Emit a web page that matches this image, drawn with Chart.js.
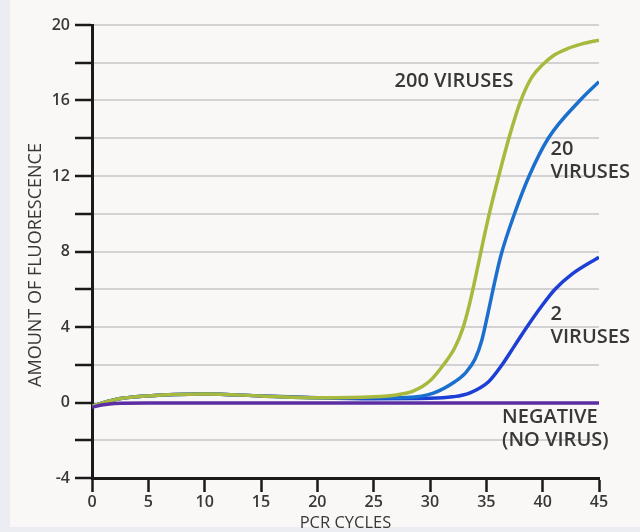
<!DOCTYPE html>
<html>
<head>
<meta charset="utf-8">
<script src="https://cdn.jsdelivr.net/npm/chart.js@4.4.0/dist/chart.umd.min.js"></script>
<style>
  html, body { margin: 0; padding: 0; background: #ecedf2; }
  canvas { display: block; }
</style>
</head>
<body>
<canvas id="mychart" width="640" height="532"></canvas>
<script>
// values (x = PCR cycle, y = fluorescence)
var cycles200 = [0, 2, 5, 10, 15, 20, 25, 27, 28.5, 30, 31.2, 32.2, 32.9, 33.5, 34.1, 34.7, 35.3, 36.1, 37, 38, 39, 40, 41, 42.2, 43.5, 45];
var fluor200  = [-0.2, 0.15, 0.35, 0.45, 0.35, 0.25, 0.3, 0.4, 0.6, 1.15, 2, 2.9, 3.9, 5.2, 6.8, 8.5, 10.1, 12, 14, 15.9, 17.2, 17.9, 18.4, 18.75, 19.0, 19.2];

var cycles20 = [0, 2, 5, 10, 15, 20, 25, 28, 30.3, 32.2, 33.2, 34.0, 34.6, 35.1, 35.6, 36.3, 37.5, 38.8, 40.5, 43.3, 45];
var fluor20  = [-0.2, 0.15, 0.35, 0.45, 0.35, 0.25, 0.25, 0.27, 0.5, 1.1, 1.6, 2.3, 3.3, 4.6, 6, 7.8, 10, 12, 14, 16, 17];

var cycles2 = [0, 2, 5, 10, 15, 20, 25, 30, 32, 33.5, 35.2, 36.4, 37.5, 38.6, 39.9, 41.1, 42.6, 45];
var fluor2  = [-0.2, 0.15, 0.35, 0.45, 0.35, 0.25, 0.2, 0.22, 0.3, 0.5, 1.1, 2, 3, 4, 5.1, 6, 6.8, 7.7];

var cyclesNeg = [0, 1, 2, 5, 45];
var fluorNeg  = [-0.25, -0.12, -0.05, -0.03, -0.03];

var yLabelTicks = [-4, 0, 4, 8, 12, 16, 20];

function pts(xs, ys) {
    return xs.map(function(x, i) { return { x: x, y: ys[i] }; });
}

// text next to the curves, placed in data units
var curveLabels = [
    { lines: ['200 VIRUSES'], x: 37.4, y: 17.0, align: 'right' },
    { lines: ['20', 'VIRUSES'], x: 40.7, y: 13.4, align: 'left' },
    { lines: ['2', 'VIRUSES'], x: 40.7, y: 4.67, align: 'left' },
    { lines: ['NEGATIVE', '(NO VIRUS)'], x: 36.4, y: -0.8, align: 'left' }
];

var bgPlugin = {
    id: 'bg',
    beforeDraw: function(chart) {
        var c = chart.ctx;
        c.save();
        c.fillStyle = '#ecedf2';
        c.fillRect(0, 0, chart.width, chart.height);
        c.fillStyle = '#f9f8f6';
        c.fillRect(10, 0, chart.width - 10, chart.height - 5);
        c.restore();
    }
};

var labelPlugin = {
    id: 'curveLabels',
    afterDatasetsDraw: function(chart) {
        var c = chart.ctx;
        var xs = chart.scales.x, ys = chart.scales.y;
        c.save();
        c.font = '600 20px "Open Sans"';
        c.fillStyle = '#383838';
        c.textBaseline = 'middle';
        curveLabels.forEach(function(l) {
            c.textAlign = l.align;
            var px = xs.getPixelForValue(l.x);
            var py = ys.getPixelForValue(l.y);
            l.lines.forEach(function(t, i) {
                c.fillText(t, px, py + i * 23);
            });
        });
        // y axis title, sits a bit below the middle in the original
        c.translate(36, 265);
        c.rotate(-Math.PI / 2);
        c.font = '18px "Open Sans"';
        c.textAlign = 'center';
        c.fillText('AMOUNT OF FLUORESCENCE', 0, 0);
        c.restore();
    }
};

var lineStyle = {
    pointRadius: 0,
    borderWidth: 3.5,
    fill: false,
    cubicInterpolationMode: 'monotone'
};

var myChart = new Chart(document.getElementById('mychart'), {
    type: 'line',
    data: {
        datasets: [
            Object.assign({ label: 'Negative', data: pts(cyclesNeg, fluorNeg), borderColor: '#5b2ea3' }, lineStyle),
            Object.assign({ label: '200 viruses', data: pts(cycles200, fluor200), borderColor: '#a8b93d' }, lineStyle),
            Object.assign({ label: '20 viruses', data: pts(cycles20, fluor20), borderColor: '#1b6fcf' }, lineStyle),
            Object.assign({ label: '2 viruses', data: pts(cycles2, fluor2), borderColor: '#1c3fd6' }, lineStyle)
        ]
    },
    options: {
        responsive: false,
        animation: false,
        layout: { padding: { top: 25, right: 41, left: 0, bottom: 0 } },
        plugins: {
            legend: { display: false },
            tooltip: { enabled: false }
        },
        scales: {
            x: {
                type: 'linear',
                min: 0,
                max: 45,
                ticks: {
                    stepSize: 5,
                    color: '#383838',
                    font: { family: 'Open Sans', size: 16, weight: 600 },
                    padding: 1,
                    maxRotation: 0
                },
                grid: {
                    drawOnChartArea: false,
                    tickLength: 14,
                    tickColor: '#1a1a1a',
                    tickWidth: 2.5
                },
                border: { color: '#1a1a1a', width: 3 },
                title: {
                    display: true,
                    text: 'PCR CYCLES',
                    color: '#383838',
                    font: { family: 'Open Sans', size: 16.5, lineHeight: 1 },
                    padding: { top: 0, bottom: 0 }
                },
                afterFit: function(s) { s.height = 54; }
            },
            y: {
                min: -4,
                max: 20,
                ticks: {
                    stepSize: 2,
                    color: '#383838',
                    font: { family: 'Open Sans', size: 16, weight: 600 },
                    padding: 5,
                    callback: function(v) { return yLabelTicks.indexOf(v) >= 0 ? v : ''; }
                },
                grid: {
                    color: '#d2d2d2',
                    lineWidth: 2,
                    tickLength: 17,
                    tickColor: '#1a1a1a',
                    tickWidth: 2.5
                },
                border: { color: '#1a1a1a', width: 3 },
                afterFit: function(s) { s.width = 92; }
            }
        }
    },
    plugins: [bgPlugin, labelPlugin]
});
</script>
</body>
</html>
